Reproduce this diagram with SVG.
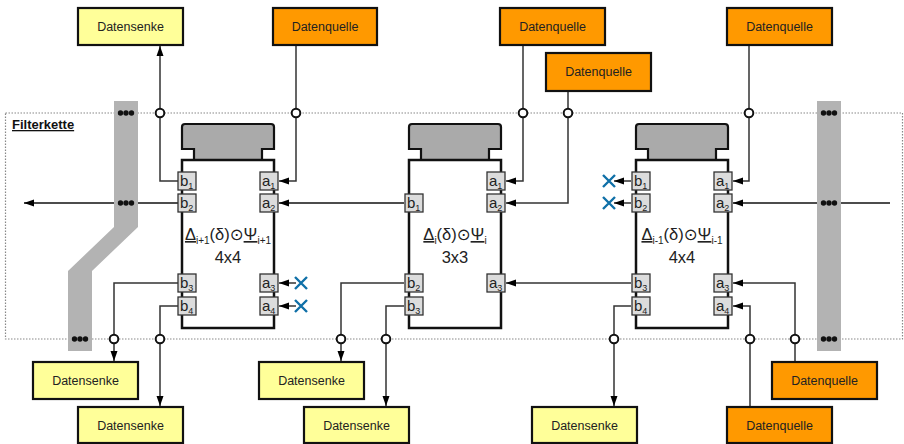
<svg xmlns="http://www.w3.org/2000/svg" width="904" height="444" viewBox="0 0 904 444">
<defs>
<style>
.box{stroke:#111;stroke-width:2.2}
.sink{fill:#ffff99}
.src{fill:#ff9900}
.lbl{font-family:"Liberation Sans",Arial,sans-serif;font-size:12.5px;fill:#222;text-anchor:middle}
.con{fill:none;stroke:#333;stroke-width:1.5}
.arr{marker-end:url(#ah)}
.pin{fill:#fff;stroke:#111;stroke-width:2}
.band{fill:#b3b3b3}
.dot{fill:#111}
.body{fill:#fff;stroke:#111;stroke-width:2.5}
.cap{fill:#aaaaaa;stroke:#111;stroke-width:2.2}
.port{fill:#dcdcdc;stroke:#333;stroke-width:1.3}
.pt{font-family:"Liberation Sans",Arial,sans-serif;font-size:15px;fill:#222}
.sub{font-size:9px}
.fm{font-family:"Liberation Sans","DejaVu Sans",sans-serif;font-size:16.5px;fill:#222;text-anchor:middle}
.x{stroke:#1070a8;stroke-width:2.4;fill:none}
.frame{fill:none;stroke:#888;stroke-width:1.2;stroke-dasharray:1.5,1.5}
</style>
<marker id="ah" viewBox="0 0 10 8" refX="10" refY="4" markerWidth="10" markerHeight="8" markerUnits="userSpaceOnUse" orient="auto">
<path d="M0,0.5 L10,4 L0,7.5 z" fill="#000"/>
</marker>
</defs>

<rect class="frame" x="5.5" y="113" width="897" height="226"/>
<text x="12" y="129" style="font-family:'Liberation Sans',Arial,sans-serif;font-size:13px;font-weight:bold;fill:#111;text-decoration:underline">Filterkette</text>

<g id="connectors">
<path class="con arr" d="M178,181 H160 V46"/>
<path class="con arr" d="M296,45 V181 H279"/>
<path class="con arr" d="M523,45 V181 H506"/>
<path class="con arr" d="M568,91 V203 H506"/>
<path class="con arr" d="M749,45 V181 H733"/>
<path class="con arr" d="M890,203 H733" style="stroke:#111"/>
<path class="con arr" d="M404,203 H279" style="stroke:#111"/>
<path class="con arr" d="M178,203 H24" style="stroke:#111"/>
<path class="con arr" d="M631,181 H614"/>
<path class="con arr" d="M631,203 H614"/>
<path class="con arr" d="M296,283 H279"/>
<path class="con arr" d="M296,306 H279"/>
<path class="con arr" d="M178,283 H114 V361"/>
<path class="con arr" d="M178,306 H160 V406"/>
<path class="con arr" d="M404,283 H341 V361"/>
<path class="con arr" d="M404,306 H386 V406"/>
<path class="con arr" d="M631,283 H506"/>
<path class="con arr" d="M631,306 H614 V406"/>
<path class="con arr" d="M750,407 V306 H733"/>
<path class="con arr" d="M795,362 V283 H733"/>
</g>

<g id="band-left">
<polygon class="band" points="114,101 138,101 138,227 92,271 92,351 68,351 68,271 114,227"/>
<circle class="dot" cx="120.5" cy="113" r="2.7"/><circle class="dot" cx="126" cy="113" r="2.7"/><circle class="dot" cx="131.5" cy="113" r="2.7"/>
<circle class="dot" cx="120.5" cy="203" r="2.7"/><circle class="dot" cx="126" cy="203" r="2.7"/><circle class="dot" cx="131.5" cy="203" r="2.7"/>
<circle class="dot" cx="74.5" cy="339" r="2.7"/><circle class="dot" cx="80" cy="339" r="2.7"/><circle class="dot" cx="85.5" cy="339" r="2.7"/>
</g>
<g id="band-right">
<rect class="band" x="817" y="101" width="24" height="250"/>
<circle class="dot" cx="823.5" cy="113" r="2.7"/><circle class="dot" cx="829" cy="113" r="2.7"/><circle class="dot" cx="834.5" cy="113" r="2.7"/>
<circle class="dot" cx="823.5" cy="203" r="2.7"/><circle class="dot" cx="829" cy="203" r="2.7"/><circle class="dot" cx="834.5" cy="203" r="2.7"/>
<circle class="dot" cx="823.5" cy="339" r="2.7"/><circle class="dot" cx="829" cy="339" r="2.7"/><circle class="dot" cx="834.5" cy="339" r="2.7"/>
</g>

<g id="block-left" transform="translate(182,0)">
<path class="cap" d="M0,149 V127 Q0,124 3,124 H89 Q92,124 92,127 V149 H80 V160 H12 V149 Z"/>
<rect class="body" x="0" y="160" width="92" height="168"/>
<rect class="port" x="-4" y="172" width="18" height="18"/><text class="pt" x="-2" y="186">b<tspan class="sub" dy="3">1</tspan></text>
<rect class="port" x="-4" y="194" width="18" height="18"/><text class="pt" x="-2" y="208">b<tspan class="sub" dy="3">2</tspan></text>
<rect class="port" x="-4" y="274" width="18" height="18"/><text class="pt" x="-2" y="288">b<tspan class="sub" dy="3">3</tspan></text>
<rect class="port" x="-4" y="297" width="18" height="18"/><text class="pt" x="-2" y="311">b<tspan class="sub" dy="3">4</tspan></text>
<rect class="port" x="78" y="172" width="18" height="18"/><text class="pt" x="80" y="186">a<tspan class="sub" dy="3">1</tspan></text>
<rect class="port" x="78" y="194" width="18" height="18"/><text class="pt" x="80" y="208">a<tspan class="sub" dy="3">2</tspan></text>
<rect class="port" x="78" y="274" width="18" height="18"/><text class="pt" x="80" y="288">a<tspan class="sub" dy="3">3</tspan></text>
<rect class="port" x="78" y="297" width="18" height="18"/><text class="pt" x="80" y="311">a<tspan class="sub" dy="3">4</tspan></text>
<text class="fm" x="46" y="240"><tspan text-decoration="underline">Δ</tspan><tspan font-size="10" dy="4">i+1</tspan><tspan dy="-4">(δ)⊙</tspan><tspan text-decoration="underline">Ψ</tspan><tspan font-size="10" dy="4">i+1</tspan></text>
<text class="fm" x="46" y="263">4x4</text>
</g>

<g id="block-middle" transform="translate(409,0)">
<path class="cap" d="M0,149 V127 Q0,124 3,124 H89 Q92,124 92,127 V149 H80 V160 H12 V149 Z"/>
<rect class="body" x="0" y="160" width="92" height="168"/>
<rect class="port" x="-4" y="194" width="18" height="18"/><text class="pt" x="-2" y="208">b<tspan class="sub" dy="3">1</tspan></text>
<rect class="port" x="-4" y="274" width="18" height="18"/><text class="pt" x="-2" y="288">b<tspan class="sub" dy="3">2</tspan></text>
<rect class="port" x="-4" y="297" width="18" height="18"/><text class="pt" x="-2" y="311">b<tspan class="sub" dy="3">3</tspan></text>
<rect class="port" x="78" y="172" width="18" height="18"/><text class="pt" x="80" y="186">a<tspan class="sub" dy="3">1</tspan></text>
<rect class="port" x="78" y="194" width="18" height="18"/><text class="pt" x="80" y="208">a<tspan class="sub" dy="3">2</tspan></text>
<rect class="port" x="78" y="274" width="18" height="18"/><text class="pt" x="80" y="288">a<tspan class="sub" dy="3">3</tspan></text>
<text class="fm" x="46" y="240"><tspan text-decoration="underline">Δ</tspan><tspan font-size="10" dy="4">i</tspan><tspan dy="-4">(δ)⊙</tspan><tspan text-decoration="underline">Ψ</tspan><tspan font-size="10" dy="4">i</tspan></text>
<text class="fm" x="46" y="263">3x3</text>
</g>

<g id="block-right" transform="translate(636,0)">
<path class="cap" d="M0,149 V127 Q0,124 3,124 H89 Q92,124 92,127 V149 H80 V160 H12 V149 Z"/>
<rect class="body" x="0" y="160" width="92" height="168"/>
<rect class="port" x="-4" y="172" width="18" height="18"/><text class="pt" x="-2" y="186">b<tspan class="sub" dy="3">1</tspan></text>
<rect class="port" x="-4" y="194" width="18" height="18"/><text class="pt" x="-2" y="208">b<tspan class="sub" dy="3">2</tspan></text>
<rect class="port" x="-4" y="274" width="18" height="18"/><text class="pt" x="-2" y="288">b<tspan class="sub" dy="3">3</tspan></text>
<rect class="port" x="-4" y="297" width="18" height="18"/><text class="pt" x="-2" y="311">b<tspan class="sub" dy="3">4</tspan></text>
<rect class="port" x="78" y="172" width="18" height="18"/><text class="pt" x="80" y="186">a<tspan class="sub" dy="3">1</tspan></text>
<rect class="port" x="78" y="194" width="18" height="18"/><text class="pt" x="80" y="208">a<tspan class="sub" dy="3">2</tspan></text>
<rect class="port" x="78" y="274" width="18" height="18"/><text class="pt" x="80" y="288">a<tspan class="sub" dy="3">3</tspan></text>
<rect class="port" x="78" y="297" width="18" height="18"/><text class="pt" x="80" y="311">a<tspan class="sub" dy="3">4</tspan></text>
<text class="fm" x="46" y="240"><tspan text-decoration="underline">Δ</tspan><tspan font-size="10" dy="4">i-1</tspan><tspan dy="-4">(δ)⊙</tspan><tspan text-decoration="underline">Ψ</tspan><tspan font-size="10" dy="4">i-1</tspan></text>
<text class="fm" x="46" y="263">4x4</text>
</g>

<g id="x-marks">
<path class="x" d="M603,175 L615,187 M615,175 L603,187"/>
<path class="x" d="M603,197 L615,209 M615,197 L603,209"/>
<path class="x" d="M295,277 L307,289 M307,277 L295,289"/>
<path class="x" d="M295,300 L307,312 M307,300 L295,312"/>
</g>

<g id="pins">
<circle class="pin" cx="160" cy="113" r="4.3"/>
<circle class="pin" cx="296" cy="113" r="4.3"/>
<circle class="pin" cx="523" cy="113" r="4.3"/>
<circle class="pin" cx="568" cy="113" r="4.3"/>
<circle class="pin" cx="749" cy="113" r="4.3"/>
<circle class="pin" cx="114" cy="339" r="4.3"/>
<circle class="pin" cx="160" cy="339" r="4.3"/>
<circle class="pin" cx="341" cy="339" r="4.3"/>
<circle class="pin" cx="386" cy="339" r="4.3"/>
<circle class="pin" cx="614" cy="339" r="4.3"/>
<circle class="pin" cx="750" cy="339" r="4.3"/>
<circle class="pin" cx="795" cy="339" r="4.3"/>
</g>

<g id="sink-top"><rect class="box sink" x="78" y="8" width="105" height="37"/><text class="lbl" x="130.5" y="31">Datensenke</text></g>
<g id="src-top-1"><rect class="box src" x="273" y="8" width="104" height="37"/><text class="lbl" x="325" y="31">Datenquelle</text></g>
<g id="src-top-2"><rect class="box src" x="500" y="8" width="105" height="37"/><text class="lbl" x="552.5" y="31">Datenquelle</text></g>
<g id="src-top-3"><rect class="box src" x="546" y="53" width="105" height="38"/><text class="lbl" x="598.5" y="76">Datenquelle</text></g>
<g id="src-top-4"><rect class="box src" x="727" y="8" width="105" height="37"/><text class="lbl" x="779.5" y="31">Datenquelle</text></g>

<g id="sink-bot-1"><rect class="box sink" x="33" y="362" width="105" height="37"/><text class="lbl" x="85.5" y="385">Datensenke</text></g>
<g id="sink-bot-2"><rect class="box sink" x="78" y="407" width="105" height="36"/><text class="lbl" x="130.5" y="430">Datensenke</text></g>
<g id="sink-bot-3"><rect class="box sink" x="259" y="362" width="105" height="37"/><text class="lbl" x="311.5" y="385">Datensenke</text></g>
<g id="sink-bot-4"><rect class="box sink" x="304" y="407" width="105" height="36"/><text class="lbl" x="356.5" y="430">Datensenke</text></g>
<g id="sink-bot-5"><rect class="box sink" x="532" y="407" width="105" height="36"/><text class="lbl" x="584.5" y="430">Datensenke</text></g>
<g id="src-bot-1"><rect class="box src" x="727" y="407" width="105" height="36"/><text class="lbl" x="779.5" y="430">Datenquelle</text></g>
<g id="src-bot-2"><rect class="box src" x="772" y="362" width="105" height="37"/><text class="lbl" x="824.5" y="385">Datenquelle</text></g>
</svg>
